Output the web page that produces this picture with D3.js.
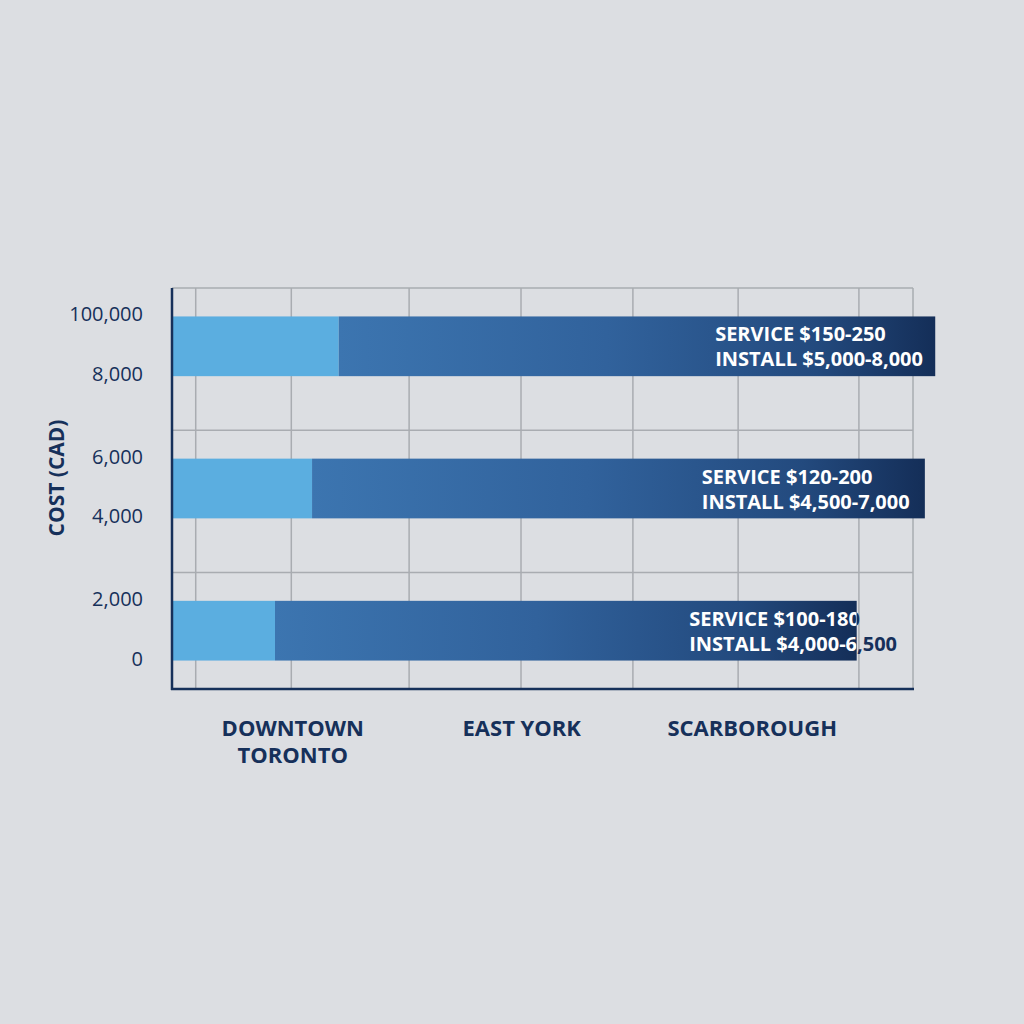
<!DOCTYPE html>
<html>
<head>
<meta charset="utf-8">
<script src="https://cdn.jsdelivr.net/npm/d3@7"></script>
<style>
  html, body { margin: 0; padding: 0; background: #dcdee2; }
  svg { display: block; font-family: "Open Sans", "Noto Sans", sans-serif; }
</style>
</head>
<body>
<svg id="chart"></svg>
<script>
// Data
const regions = ["DOWNTOWN TORONTO", "EAST YORK", "SCARBOROUGH"];
const rows = ["r1", "r2", "r3"];
const serviceSeg = [22.5, 18.9, 13.9];      // light blue part, % of plot width
const totalBar = [103.0, 101.6, 92.4];      // full bar length, % of plot width
const serviceText = ["SERVICE $150-250", "SERVICE $120-200", "SERVICE $100-180"];
const installText = ["INSTALL $5,000-8,000", "INSTALL $4,500-7,000", "INSTALL $4,000-6,500"];
const topTicks = ["100,000", "6,000", "2,000"];
const bottomTicks = ["8,000", "4,000", "0"];
const gridX = [3.2, 16.1, 32.0, 47.1, 62.2, 76.4, 92.7, 100];
const regionX = [16.3, 47.2, 78.3];

// layout
const W = 1024, H = 1024;
const plot = { left: 172, right: 913, top: 288, bottom: 689 };
const labelStart = [73.3, 71.5, 69.8];
const navy = "#16305a";

const svg = d3.select("#chart").attr("width", W).attr("height", H);

const x = d3.scaleLinear().domain([0, 100]).range([plot.left, plot.right]);
const y = d3.scaleBand().domain(rows).range([plot.top, plot.bottom])
  .paddingInner(0.58).paddingOuter(0.2);
const outer = y.step() * 0.2;

// gradient for dark segment
const defs = svg.append("defs");
const grad = defs.append("linearGradient").attr("id", "darkGrad")
  .attr("x1", "0%").attr("x2", "100%").attr("y1", "0%").attr("y2", "0%");
grad.append("stop").attr("offset", "0%").attr("stop-color", "#3c75b0");
grad.append("stop").attr("offset", "45%").attr("stop-color", "#31629c");
grad.append("stop").attr("offset", "80%").attr("stop-color", "#234a7e");
grad.append("stop").attr("offset", "100%").attr("stop-color", "#142e58");

// grid
const grid = svg.append("g").attr("stroke", "#a9acb1").attr("stroke-width", 1.5);
grid.selectAll("line.v").data(gridX).enter().append("line")
  .attr("x1", d => x(d)).attr("x2", d => x(d))
  .attr("y1", plot.top).attr("y2", plot.bottom);
grid.selectAll("line.h").data(rows).enter().append("line")
  .attr("x1", plot.left).attr("x2", x(100))
  .attr("y1", d => y(d) - outer).attr("y2", d => y(d) - outer);

// bars
const bars = svg.append("g").selectAll("g").data(rows).enter().append("g");
bars.append("rect")
  .attr("x", x(0)).attr("y", d => y(d))
  .attr("width", (d, i) => x(serviceSeg[i]) - x(0))
  .attr("height", y.bandwidth())
  .attr("fill", "#5baee0");
bars.append("rect")
  .attr("x", (d, i) => x(serviceSeg[i])).attr("y", d => y(d))
  .attr("width", (d, i) => x(totalBar[i]) - x(serviceSeg[i]))
  .attr("height", y.bandwidth())
  .attr("fill", "url(#darkGrad)");

// clip paths so labels spilling off a bar switch colour
rows.forEach((r, i) => {
  defs.append("clipPath").attr("id", "in" + i).append("rect")
    .attr("x", x(0)).attr("y", y(r) - 5)
    .attr("width", x(totalBar[i]) - x(0)).attr("height", y.bandwidth() + 10);
  defs.append("clipPath").attr("id", "out" + i).append("rect")
    .attr("x", x(totalBar[i])).attr("y", y(r) - 5)
    .attr("width", W - x(totalBar[i])).attr("height", y.bandwidth() + 10);
});

["in", "out"].forEach(k => {
  const t = bars.append("text")
    .attr("clip-path", (d, i) => "url(#" + k + i + ")")
    .attr("x", (d, i) => x(labelStart[i]))
    .attr("font-size", 20).attr("font-weight", 700)
    .attr("fill", k === "in" ? "#ffffff" : navy);
  t.append("tspan").attr("x", (d, i) => x(labelStart[i]))
    .attr("y", d => y(d) + 25).text((d, i) => serviceText[i]);
  t.append("tspan").attr("x", (d, i) => x(labelStart[i]))
    .attr("y", d => y(d) + 50).text((d, i) => installText[i]);
});

// y tick labels at bar edges
const ticks = svg.append("g").attr("fill", navy).attr("font-size", 20)
  .attr("text-anchor", "end");
ticks.selectAll("text.t").data(rows).enter().append("text")
  .attr("x", plot.left - 29).attr("y", d => y(d) + 5).text((d, i) => topTicks[i]);
ticks.selectAll("text.b").data(rows).enter().append("text")
  .attr("x", plot.left - 29).attr("y", d => y(d) + y.bandwidth() + 5).text((d, i) => bottomTicks[i]);

// axes lines
svg.append("line").attr("x1", plot.left).attr("x2", plot.left)
  .attr("y1", plot.top).attr("y2", plot.bottom + 1)
  .attr("stroke", navy).attr("stroke-width", 2.5);
svg.append("line").attr("x1", plot.left - 1).attr("x2", x(100) + 1)
  .attr("y1", plot.bottom).attr("y2", plot.bottom)
  .attr("stroke", navy).attr("stroke-width", 2.5);

// y title
svg.append("text")
  .attr("transform", "translate(64,478) rotate(-90)")
  .attr("text-anchor", "middle").attr("fill", navy)
  .attr("font-size", 21).attr("font-weight", 700)
  .text("COST (CAD)");

// region labels
const reg = svg.append("g").attr("fill", navy).attr("font-size", 22)
  .attr("font-weight", 700).attr("text-anchor", "middle");
regions.forEach((name, i) => {
  const words = name === "DOWNTOWN TORONTO" ? ["DOWNTOWN", "TORONTO"] : [name];
  const t = reg.append("text").attr("x", x(regionX[i])).attr("y", plot.bottom + 47);
  words.forEach((w, j) => t.append("tspan").attr("x", x(regionX[i]))
    .attr("dy", j === 0 ? 0 : 27).text(w));
});
</script>
</body>
</html>
